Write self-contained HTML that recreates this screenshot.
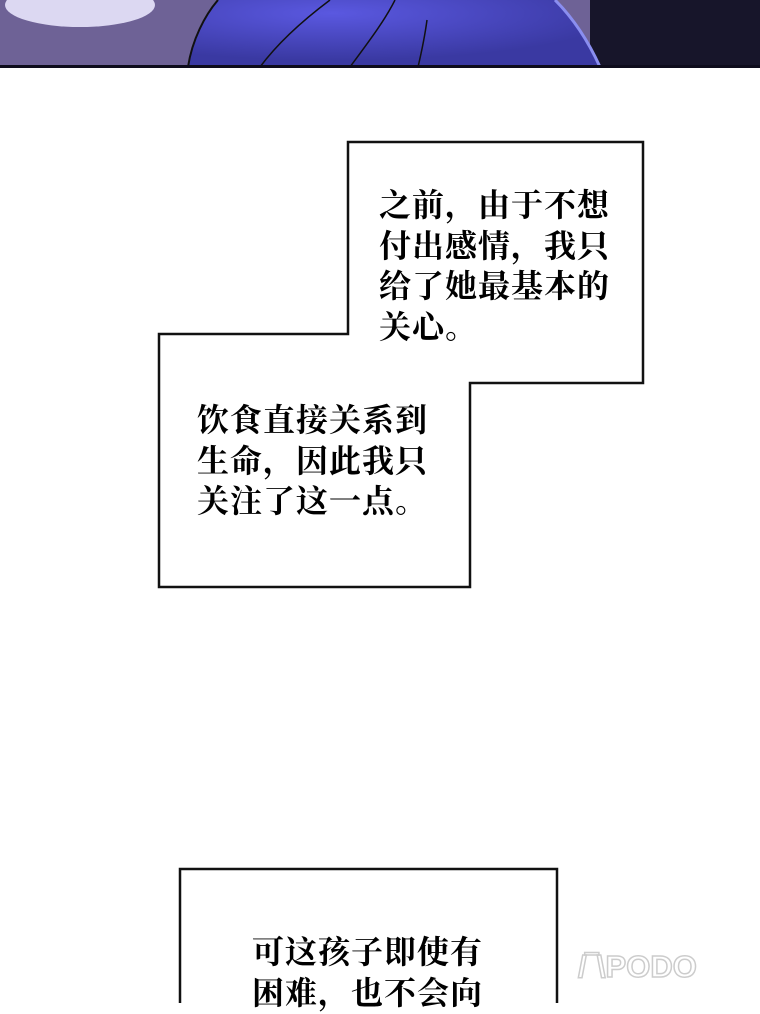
<!DOCTYPE html>
<html><head><meta charset="utf-8"><style>
body{margin:0;width:760px;height:1003px;overflow:hidden;background:#fff;position:relative;}
.t{position:absolute;font-size:32px;line-height:40.5px;color:#000;letter-spacing:1px;white-space:nowrap;font-family:"Noto Serif CJK SC","WenQuanYi Zen Hei",serif;font-weight:bold;}
</style></head><body>
<svg width="760" height="1003" style="position:absolute;left:0;top:0">
<defs>
<radialGradient id="g1" cx="0.35" cy="0.2" r="0.7"><stop offset="0" stop-color="#5a58e0"/><stop offset="1" stop-color="#3a39a2"/></radialGradient>
</defs>
<rect x="0" y="0" width="760" height="67" fill="#6e6296"/>
<ellipse cx="80" cy="5" rx="75" ry="22" fill="#dcd8f2"/>
<rect x="590" y="0" width="170" height="67" fill="#17152a"/>
<path d="M188 67 C192 40 205 15 218 0 L555 0 C575 20 590 45 600 67 Z" fill="url(#g1)"/>
<path d="M188 67 C192 40 205 15 218 0" stroke="#111" stroke-width="2" fill="none"/>
<path d="M260 67 C280 40 310 15 330 0 M350 67 C370 40 385 20 395 0 M418 67 C422 50 425 35 427 20" stroke="#111" stroke-width="1.5" fill="none"/>
<path d="M555 0 C575 20 590 45 600 67" stroke="#8a8ef0" stroke-width="3" fill="none"/>
<rect x="0" y="65" width="760" height="3" fill="#0e0c1c"/>
<polygon points="348,142 643,142 643,383 470,383 470,587 159,587 159,334 348,334" fill="#fff" stroke="#111" stroke-width="2.5"/>
<rect x="180" y="869" width="377" height="150" fill="#fff" stroke="#111" stroke-width="2.5"/>
<text x="578" y="977" font-family="Liberation Sans,sans-serif" font-size="31" font-weight="bold" fill="none" stroke="#ccc" stroke-width="1.5">/‾\PODO</text>
</svg>
<div class="t" style="left:379px;top:183px">之前，由于不想<br>付出感情，我只<br>给了她最基本的<br>关心。</div>
<div class="t" style="left:197px;top:398px">饮食直接关系到<br>生命，因此我只<br>关注了这一点。</div>
<div class="t" style="left:252px;top:930px">可这孩子即使有<br>困难，也不会向</div>
</body></html>
